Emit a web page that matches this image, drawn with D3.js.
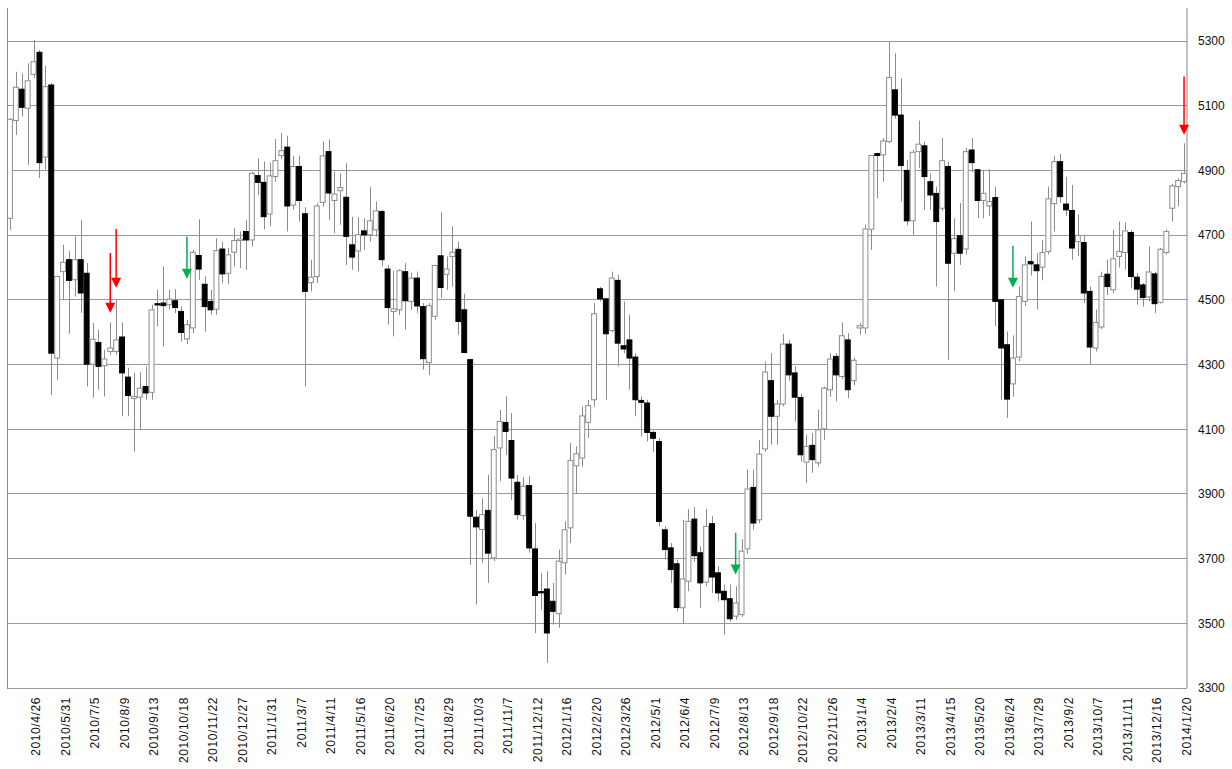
<!DOCTYPE html>
<html><head><meta charset="utf-8">
<script src="https://cdn.jsdelivr.net/npm/d3@7/dist/d3.min.js"></script>
<style>body{margin:0;background:#fff}svg{display:block}</style>
</head><body><svg id="chart" width="1232" height="769"></svg>
<script>
// Weekly candles, 2010/3/29 .. 2014/1/20
const openV = [4752,5054,5151,5092,5197,5265,4941,5164,4320,4587,4624,4562,4624,4582,4301,4368,4296,4340,4340,4385,
4261,4195,4199,4232,4214,4488,4490,4485,4497,4464,4379,4413,4637,4548,4495,4471,4657,4582,4647,4683,
4711,4685,4884,4863,4765,4881,4946,4972,4793,4912,4766,4553,4572,4801,4958,4807,4837,4817,4670,4651,
4713,4701,4716,4773,4595,4464,4469,4587,4495,4567,4479,4306,4449,4636,4579,4634,4656,4469,4315,3828,
3790,3849,3702,4042,4121,4065,3936,3833,3926,3730,3598,3606,3568,3530,3687,3795,3987,4011,4121,4191,
4534,4503,4405,4560,4358,4376,4323,4189,4181,4090,4062,3789,3733,3684,3548,3630,3822,3718,3627,3808,
3656,3599,3576,3522,3527,3730,3920,3820,4039,4250,4140,4178,4363,4274,4198,3998,4050,3996,4101,4222,
4325,4263,4376,4250,4413,4413,4718,4952,4948,4989,5149,5071,4900,4744,4958,4976,4865,4829,4783,4912,
4644,4698,4657,4963,4902,4807,4790,4816,4500,4361,4240,4323,4495,4618,4608,4601,4649,4797,4927,4796,
4776,4680,4677,4526,4351,4416,4579,4531,4634,4646,4708,4570,4546,4509,4580,4492,4646,4783,4850,4865];
const highV = [5062,5205,5200,5231,5303,5272,5223,5170,4575,4670,4652,4696,4747,4614,4429,4407,4345,4430,4500,4430,
4290,4274,4276,4294,4485,4531,4603,4531,4533,4479,4438,4654,4749,4572,4531,4690,4680,4660,4721,4711,
4747,4896,4938,4927,4924,4997,5015,5007,4945,4945,4786,4624,4799,4989,4996,4896,4891,4922,4757,4755,
4752,4850,4804,4778,4608,4590,4594,4613,4583,4587,4490,4490,4608,4770,4634,4727,4680,4519,4318,3851,
3887,3959,4080,4160,4201,4150,3959,3952,3955,3810,3656,3661,3625,3728,3815,4057,4047,4170,4191,4490,
4540,4505,4587,4577,4495,4454,4335,4201,4191,4095,4073,3800,3748,3697,3820,3853,3860,3738,3853,3831,
3676,3620,3620,3614,3760,3975,3975,4067,4309,4335,4191,4395,4376,4294,4210,4083,4088,4160,4232,4335,
4335,4430,4397,4320,4428,4732,4948,4953,5000,5298,5262,5185,4932,4963,5054,4989,4890,4850,5000,4927,
4752,4799,4970,5000,4904,4902,4904,4850,4500,4402,4390,4541,4634,4742,4644,4685,4850,4945,4951,4880,
4855,4763,4701,4541,4470,4587,4624,4716,4742,4739,4716,4583,4552,4665,4587,4660,4718,4858,4876,4984];
const lowV = [4716,5010,5066,4917,5185,4876,4902,4206,4253,4500,4395,4510,4460,4232,4197,4222,4201,4330,4330,4140,
4140,4031,4098,4191,4191,4418,4356,4470,4459,4371,4364,4397,4562,4402,4454,4454,4552,4548,4603,4598,
4593,4665,4824,4718,4727,4865,4935,4711,4778,4742,4232,4526,4552,4788,4747,4706,4732,4608,4593,4587,
4654,4680,4696,4603,4423,4387,4453,4407,4469,4459,4284,4268,4438,4505,4531,4541,4392,4335,3681,3558,
3687,3625,3692,3939,4021,3882,3820,3820,3718,3470,3542,3378,3496,3486,3651,3748,3903,3985,4073,4170,
4495,4191,4400,4294,4335,4222,4140,4078,4062,4030,3800,3697,3625,3537,3501,3599,3690,3548,3615,3594,
3568,3465,3505,3511,3520,3715,3790,3810,4030,4052,4052,4170,4250,4124,4000,3934,3965,3985,4067,4200,
4186,4255,4196,4235,4392,4395,4654,4814,4865,4985,5060,4804,4730,4701,4907,4778,4778,4541,4775,4315,
4526,4608,4640,4895,4752,4752,4760,4418,4191,4135,4200,4310,4480,4575,4470,4560,4640,4711,4800,4760,
4624,4635,4490,4302,4340,4410,4515,4520,4600,4593,4536,4485,4479,4495,4459,4488,4640,4742,4790,4860];
const closeV = [5058,5157,5095,5177,5236,4924,5159,4335,4572,4616,4560,4624,4521,4301,4378,4294,4317,4351,4376,4274,
4204,4201,4227,4212,4469,4484,4482,4502,4476,4399,4423,4647,4595,4479,4469,4652,4580,4639,4683,4688,
4685,4891,4863,4757,4883,4930,4961,4790,4912,4807,4526,4570,4790,4945,4830,4827,4847,4696,4632,4701,
4701,4744,4775,4624,4476,4472,4590,4497,4567,4481,4318,4482,4606,4538,4595,4647,4433,4337,3831,3798,
3836,3717,4037,4124,4093,3949,3836,3924,3733,3586,3594,3470,3537,3692,3789,4003,4024,4141,4173,4457,
4503,4395,4567,4366,4348,4320,4191,4183,4090,4072,3815,3728,3666,3549,3637,3815,3709,3625,3800,3643,
3594,3573,3514,3563,3723,3915,3810,4023,4277,4140,4178,4363,4268,4199,4021,4047,4006,4098,4227,4317,
4268,4389,4222,4313,4420,4719,4946,4946,4991,5187,5071,4915,4744,4956,4981,4881,4824,4742,4930,4613,
4690,4644,4958,4924,4807,4829,4804,4495,4351,4193,4320,4510,4608,4611,4590,4646,4812,4927,4819,4778,
4660,4699,4521,4354,4430,4572,4541,4627,4649,4713,4572,4533,4507,4586,4488,4656,4711,4852,4869,4891];

// x-axis labels: every 5th week starting at index 4
const tickLabels = ["2010/4/26","2010/5/31","2010/7/5","2010/8/9","2010/9/13","2010/10/18","2010/11/22","2010/12/27",
"2011/1/31","2011/3/7","2011/4/11","2011/5/16","2011/6/20","2011/7/25","2011/8/29","2011/10/3","2011/11/7","2011/12/12",
"2012/1/16","2012/2/20","2012/3/26","2012/5/1","2012/6/4","2012/7/9","2012/8/13","2012/9/18","2012/10/22","2012/11/26",
"2013/1/4","2013/2/4","2013/3/11","2013/4/15","2013/5/20","2013/6/24","2013/7/29","2013/9/2","2013/10/7","2013/11/11",
"2013/12/16","2014/1/20"];
const yTicks = [3300,3500,3700,3900,4100,4300,4500,4700,4900,5100,5300];

// signal arrows
const arrowIdx = [17,18,30,123,170,199];
const arrowTail = [4645,4719,4695,3780,4667,5190];
const arrowTip = [4460,4537,4565,3651,4537,5010];
const arrowKind = ["sell","sell","buy","buy","buy","sell"];

const svg = d3.select("#chart");
const L = 7, R = 1187, T = 8, B = 688;
const n = openV.length;
const x = d3.scaleBand().domain(d3.range(n)).range([L, R]).padding(0);
const y = d3.scaleLinear().domain([3300, 5300]).range([688, 41]);
const bw = x.bandwidth();
const cx = i => x(i) + bw / 2;

// gridlines
svg.append("g").selectAll("line").data(yTicks).join("line")
  .attr("x1", L).attr("x2", R).attr("y1", d => y(d)).attr("y2", d => y(d))
  .attr("stroke", "#9a9a9a").attr("stroke-width", 1).attr("shape-rendering", "crispEdges");

// left border
svg.append("line").attr("x1", L).attr("x2", L).attr("y1", T).attr("y2", B)
  .attr("stroke", "#888").attr("shape-rendering", "crispEdges");

// right axis
const yAxis = d3.axisRight(y).tickValues(yTicks).tickSize(0).tickPadding(11).tickFormat(d3.format("d"));
const ga = svg.append("g").attr("transform", `translate(${R},0)`).call(yAxis);
ga.select(".domain").attr("stroke", "#888").attr("d", `M0,${T}V${B}`);
ga.selectAll("text").attr("font-family", "'Liberation Sans Narrow','Liberation Sans',Arial,sans-serif")
  .attr("font-size", 12).attr("fill", "#111");

// x labels
const xl = svg.append("g");
tickLabels.forEach((t, k) => {
  const i = 4 + k * 5;
  xl.append("text").text(t)
    .attr("transform", `translate(${cx(i) + 6.5},697) rotate(-90)`)
    .attr("text-anchor", "end")
    .attr("font-family", "'Liberation Sans',Arial,sans-serif")
    .attr("letter-spacing", "0.6px")
    .attr("font-size", 12).attr("fill", "#111");
});

// candles
const data = d3.range(n).map(i => ({i, o: openV[i], h: highV[i], l: lowV[i], c: closeV[i]}));
const g = svg.append("g");
g.selectAll("line.wick").data(data).join("line").attr("class", "wick")
  .attr("x1", d => Math.round(cx(d.i)) + 0.5).attr("x2", d => Math.round(cx(d.i)) + 0.5)
  .attr("y1", d => y(d.h)).attr("y2", d => y(d.l))
  .attr("stroke", "#8c8c8c").attr("stroke-width", 1);
g.selectAll("rect.body").data(data).join("rect").attr("class", "body")
  .attr("x", d => x(d.i) + 0.5).attr("width", bw - 1)
  .attr("y", d => y(Math.max(d.o, d.c)))
  .attr("height", d => Math.max(1, Math.abs(y(d.o) - y(d.c))))
  .attr("fill", d => d.c >= d.o ? "#fff" : "#000")
  .attr("stroke", d => d.c >= d.o ? "#8c8c8c" : "#000").attr("stroke-width", 1);

// arrows
const ag = svg.append("g");
arrowIdx.forEach((i, k) => {
  const col = arrowKind[k] === "sell" ? "#ff0000" : "#00b050";
  const xp = cx(i), yt = y(arrowTip[k]), ys = y(arrowTail[k]);
  ag.append("line").attr("x1", xp).attr("x2", xp).attr("y1", ys).attr("y2", yt - 8)
    .attr("stroke", col).attr("stroke-width", 1.5);
  ag.append("path").attr("d", `M${xp - 5},${yt - 10}L${xp + 5},${yt - 10}L${xp},${yt}Z`).attr("fill", col);
});
</script></body></html>
